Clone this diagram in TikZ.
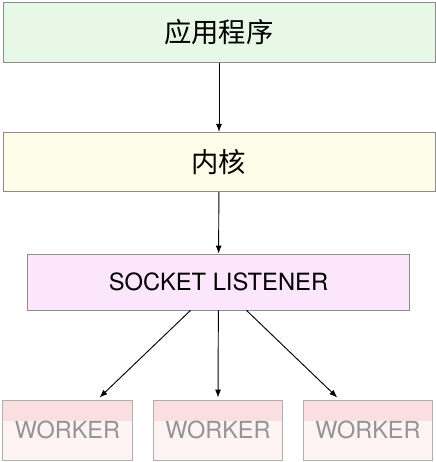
\documentclass[tikz,border=0pt]{standalone}
\usepackage{fontspec}
\usetikzlibrary{arrows.meta}
\setmainfont{TeX Gyre Heros}
\newfontfamily\cjk{Noto Sans CJK SC}
\definecolor{appCol}{HTML}{E8F8E6}
\definecolor{kerCol}{HTML}{FDFDE9}
\definecolor{sockCol}{HTML}{FCE6FC}
\definecolor{wkTop}{HTML}{F9DFDF}
\definecolor{wkBot}{HTML}{FDF3F3}
\definecolor{edgeCol}{HTML}{8C8C8C}
\begin{document}
\begin{tikzpicture}[>={Latex[length=6pt,width=4.5pt]}, x=0.75pt, y=-0.75pt,
    layer/.style={draw=edgeCol, line width=0.6pt, inner sep=0pt, minimum height=44.5pt},
    worker/.style={draw=edgeCol!70, line width=0.6pt, inner sep=0pt, fill=wkBot,
        minimum width=97pt, minimum height=45pt, text=black!42, font=\fontsize{17.6}{20}\selectfont,
        path picture={\fill[wkTop] (path picture bounding box.north west) rectangle ([yshift=-15.5pt]path picture bounding box.north east);}},
    link/.style={->, line width=0.7pt}]
        \useasboundingbox (0,0) rectangle (436,462);
        \node[layer, fill=appCol, minimum width=324pt, font=\cjk\fontsize{20.5}{24}\selectfont] (app) at (219,32.5) {应用程序};
        \node[layer, fill=kerCol, minimum width=324pt, font=\cjk\fontsize{20.5}{24}\selectfont] (kernel) at (219,162) {内核};
        \node[layer, fill=sockCol, minimum width=286pt, minimum height=42pt, font=\fontsize{17.8}{20}\selectfont] (sock) at (218.5,282) {SOCKET LISTENER};
        \node[worker] (wkA) at (67.5,430) {WORKER};
        \node[worker] (wkB) at (218,430) {WORKER};
        \node[worker] (wkC) at (368,430) {WORKER};
        \draw[link] (app) -- (kernel);
        \draw[link] (kernel) -- (sock);
        \draw[link] ([xshift=-21pt]sock.south) -- ([xshift=24pt,yshift=1.5pt]wkA.north);
        \draw[link] (sock) -- ([yshift=1.5pt]wkB.north);
        \draw[link] ([xshift=21pt]sock.south) -- ([xshift=-23pt,yshift=1.5pt]wkC.north);
    \end{tikzpicture}
\end{document}
